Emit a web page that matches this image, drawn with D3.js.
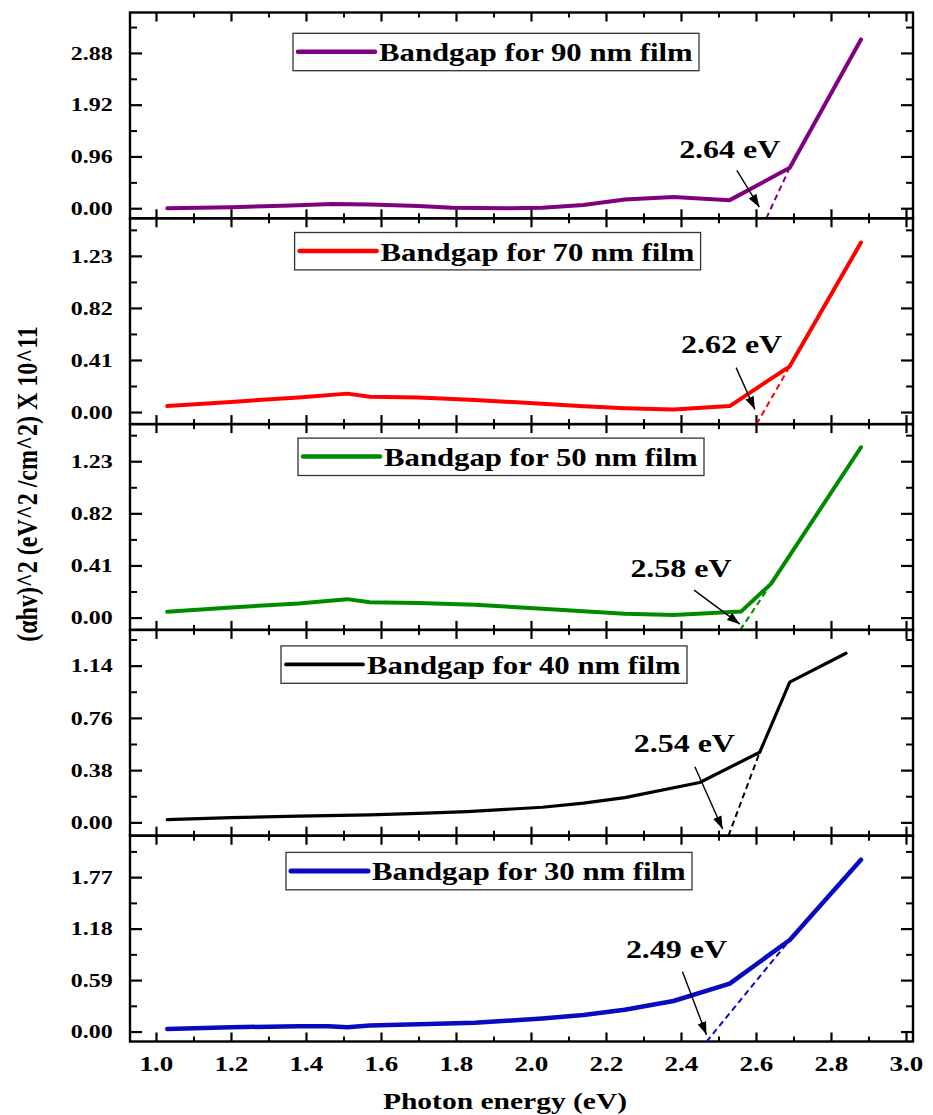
<!DOCTYPE html>
<html>
<head>
<meta charset="utf-8">
<script src="https://cdn.jsdelivr.net/npm/d3@7"></script>
<style>
  body { margin: 0; background: #fff; }
</style>
</head>
<body>
<svg id="chart" width="933" height="1115"></svg>
<script>
// ---- data ----
const films = ["90 nm", "70 nm", "50 nm", "40 nm", "30 nm"];

const energy90 = [1.03, 1.20, 1.36, 1.47, 1.57, 1.70, 1.79, 1.94, 2.03, 2.14, 2.25, 2.38, 2.53, 2.69, 2.88];
const ahv90    = [0.00, 0.02, 0.05, 0.08, 0.07, 0.04, 0.01, 0.00, 0.01, 0.06, 0.16, 0.21, 0.15, 0.75, 3.13];

const energy70 = [1.03, 1.20, 1.38, 1.51, 1.57, 1.70, 1.85, 2.03, 2.14, 2.25, 2.38, 2.53, 2.69, 2.88];
const ahv70    = [0.047, 0.08, 0.115, 0.145, 0.12, 0.115, 0.095, 0.065, 0.045, 0.03, 0.02, 0.047, 0.36, 1.335];

const energy50 = [1.03, 1.20, 1.38, 1.51, 1.57, 1.70, 1.85, 2.03, 2.14, 2.25, 2.38, 2.56, 2.64, 2.88];
const ahv50    = [0.045, 0.08, 0.11, 0.145, 0.12, 0.115, 0.10, 0.07, 0.05, 0.03, 0.02, 0.047, 0.265, 1.34];

const energy40 = [1.03, 1.20, 1.38, 1.57, 1.70, 1.83, 2.03, 2.14, 2.25, 2.45, 2.61, 2.69, 2.84];
const ahv40    = [0.02, 0.035, 0.045, 0.055, 0.065, 0.078, 0.11, 0.14, 0.18, 0.29, 0.51, 1.02, 1.23];

const energy30 = [1.03, 1.20, 1.38, 1.46, 1.51, 1.57, 1.70, 1.85, 2.03, 2.14, 2.25, 2.38, 2.53, 2.69, 2.88];
const ahv30    = [0.03, 0.05, 0.06, 0.06, 0.05, 0.07, 0.085, 0.10, 0.15, 0.19, 0.25, 0.35, 0.55, 1.05, 1.97];

// band gap (x intercept) and the upper point of each dashed tangent
const bandgaps    = [2.64, 2.62, 2.58, 2.54, 2.49];
const tangentTops = [[2.69, 0.75], [2.69, 0.36], [2.64, 0.265], [2.61, 0.51], [2.69, 1.05]];

// tick labels
const xTicks      = [1.0, 1.2, 1.4, 1.6, 1.8, 2.0, 2.2, 2.4, 2.6, 2.8, 3.0];
const xMinorTicks = [1.1, 1.3, 1.5, 1.7, 1.9, 2.1, 2.3, 2.5, 2.7, 2.9];
const yTicks90 = [0, 0.96, 1.92, 2.88];
const yTicks70 = [0, 0.41, 0.82, 1.23];
const yTicks50 = [0, 0.41, 0.82, 1.23];
const yTicks40 = [0, 0.38, 0.76, 1.14];
const yTicks30 = [0, 0.59, 1.18, 1.77];
const yDomains = [[-0.187, 3.63], [-0.095, 1.526], [-0.097, 1.522], [-0.097, 1.40], [-0.114, 2.245]];

// ---- layout / style ----
const left = 130, right = 913, top0 = 12.5, panelH = 205.8;
const SX = 1.23;               // the figure is stretched sideways
const font = "'Liberation Serif', 'Times New Roman', serif";
const colors = ["#800080", "#ff0000", "#008a00", "#000000", "#0a0ac0"];
const widths = [4, 4, 4, 3.2, 4.5];
// legend box: left px, offset from panel top
const legendPos = [[293, 20.8], [294.6, 14.2], [298, 14], [281, 16], [286, 16.7]];
// annotation: label centre [x, y] and arrow from/to, in data units
const notes = [
  { label: [2.53, 0.94],  from: [2.549, 0.70],  to: [2.609, 0.02] },
  { label: [2.535, 0.463], from: [2.547, 0.35], to: [2.597, 0.02] },
  { label: [2.40, 0.316], from: [2.435, 0.216], to: [2.557, -0.052] },
  { label: [2.409, 0.509], from: [2.437, 0.405], to: [2.511, -0.048] },
  { label: [2.388, 0.845], from: [2.404, 0.685], to: [2.468, -0.038] }
];

const energies = [energy90, energy70, energy50, energy40, energy30];
const values   = [ahv90, ahv70, ahv50, ahv40, ahv30];
const yTicks   = [yTicks90, yTicks70, yTicks50, yTicks40, yTicks30];

const svg = d3.select("#chart");

svg.append("defs").append("marker")
  .attr("id", "arrow")
  .attr("markerUnits", "userSpaceOnUse")
  .attr("markerWidth", 14).attr("markerHeight", 9)
  .attr("refX", 13).attr("refY", 4.5)
  .attr("orient", "auto")
  .append("path").attr("d", "M0,0 L13,4.5 L0,9 Z").attr("fill", "#000");

const x = d3.scaleLinear().domain([0.9307, 3.0187]).range([left, right]);

// stretched bold serif text
function stext(g, px, py, str, size, anchor) {
  return g.append("text")
    .attr("transform", `translate(${px},${py}) scale(${SX},1)`)
    .attr("text-anchor", anchor || "start")
    .attr("font-family", font).attr("font-weight", "bold")
    .attr("font-size", size).attr("fill", "#000")
    .text(str);
}

function styleTicks(sel, w) {
  sel.select(".domain").remove();
  sel.selectAll("line").attr("stroke", "#000").attr("stroke-width", w);
}

films.forEach((film, i) => {
  const y0 = top0 + i * panelH, y1 = y0 + panelH;
  const dom = yDomains[i];
  const y = d3.scaleLinear().domain(dom).range([y1, y0]);
  const step = yTicks[i][1];
  const yMinor = yTicks[i].map(t => t + step / 2).filter(t => t < dom[1]);
  const g = svg.append("g");

  // y axes (inward ticks)
  const gl = g.append("g").attr("transform", `translate(${left},0)`)
    .call(d3.axisLeft(y).tickValues(yTicks[i]).tickSize(-12).tickPadding(14)
      .tickFormat(d3.format(".2f")));
  styleTicks(gl, 2.2);
  gl.selectAll("text")
    .attr("font-family", font).attr("font-weight", "bold").attr("font-size", 19.5)
    .attr("fill", "#000").attr("transform", `scale(${SX},1)`);
  styleTicks(g.append("g").attr("transform", `translate(${left},0)`)
    .call(d3.axisLeft(y).tickValues(yMinor).tickSize(-7).tickFormat("")), 2);
  styleTicks(g.append("g").attr("transform", `translate(${right},0)`)
    .call(d3.axisRight(y).tickValues(yTicks[i]).tickSize(-12).tickFormat("")), 2.2);
  styleTicks(g.append("g").attr("transform", `translate(${right},0)`)
    .call(d3.axisRight(y).tickValues(yMinor).tickSize(-7).tickFormat("")), 2);

  // x axes (top & bottom of each panel)
  styleTicks(g.append("g").attr("transform", `translate(0,${y0})`)
    .call(d3.axisTop(x).tickValues(xTicks).tickSize(-9).tickFormat("")), 2.2);
  styleTicks(g.append("g").attr("transform", `translate(0,${y0})`)
    .call(d3.axisTop(x).tickValues(xMinorTicks).tickSize(-5).tickFormat("")), 2);
  const gb = g.append("g").attr("transform", `translate(0,${y1})`)
    .call(d3.axisBottom(x).tickValues(xTicks).tickSize(-9).tickPadding(14)
      .tickFormat(i === films.length - 1 ? d3.format(".1f") : ""));
  styleTicks(gb, 2.2);
  gb.selectAll("text")
    .attr("font-family", font).attr("font-weight", "bold").attr("font-size", 22)
    .attr("fill", "#000").attr("transform", `scale(${SX},1)`);
  gb.selectAll(".tick").each(function (d) {
    d3.select(this).select("text").attr("x", 0);
  });
  styleTicks(g.append("g").attr("transform", `translate(0,${y1})`)
    .call(d3.axisBottom(x).tickValues(xMinorTicks).tickSize(-5).tickFormat("")), 2);

  // border
  g.append("rect").attr("x", left).attr("y", y0)
    .attr("width", right - left).attr("height", panelH)
    .attr("fill", "none").attr("stroke", "#000").attr("stroke-width", 2.4);

  // dashed tangent from the band gap
  const top = tangentTops[i];
  const slope = top[1] / (top[0] - bandgaps[i]);
  const xb = bandgaps[i] + dom[0] / slope;
  g.append("path")
    .attr("d", d3.line().x(d => x(d[0])).y(d => y(d[1]))([[xb, dom[0]], top]))
    .attr("fill", "none").attr("stroke", colors[i])
    .attr("stroke-width", 2).attr("stroke-dasharray", "6,4");

  // data line
  const pts = energies[i].map((e, k) => [e, values[i][k]]);
  g.append("path")
    .attr("d", d3.line().x(d => x(d[0])).y(d => y(d[1]))(pts))
    .attr("fill", "none").attr("stroke", colors[i])
    .attr("stroke-width", widths[i]).attr("stroke-linejoin", "round").attr("stroke-linecap", "round");

  // legend
  const [lx, ly] = legendPos[i];
  const by = y0 + ly;
  g.append("rect").attr("x", lx).attr("y", by).attr("width", 406).attr("height", 37.4)
    .attr("fill", "#fff").attr("stroke", "#333").attr("stroke-width", 1.3);
  g.append("line").attr("x1", lx + 5).attr("x2", lx + 82)
    .attr("y1", by + 18.5).attr("y2", by + 18.5)
    .attr("stroke", colors[i]).attr("stroke-width", widths[i] + 0.5).attr("stroke-linecap", "round");
  stext(g, lx + 86, by + 28, `Bandgap for ${film} film`, 25);

  // annotation
  const n = notes[i];
  stext(g, x(n.label[0]), y(n.label[1]), `${bandgaps[i].toFixed(2)} eV`, 26, "middle");
  g.append("line")
    .attr("x1", x(n.from[0])).attr("y1", y(n.from[1]))
    .attr("x2", x(n.to[0])).attr("y2", y(n.to[1]))
    .attr("stroke", "#000").attr("stroke-width", 1.4)
    .attr("marker-end", "url(#arrow)");
});

// axis titles
stext(svg, 505, 1109, "Photon energy (eV)", 24, "middle");
svg.append("text")
  .attr("transform", `translate(37,484) rotate(-90) scale(1,${SX})`)
  .attr("text-anchor", "middle")
  .attr("font-family", font).attr("font-weight", "bold").attr("font-size", 24)
  .text("(αhv)^2 (eV^2 /cm^2) X 10^11");
</script>
</body>
</html>
